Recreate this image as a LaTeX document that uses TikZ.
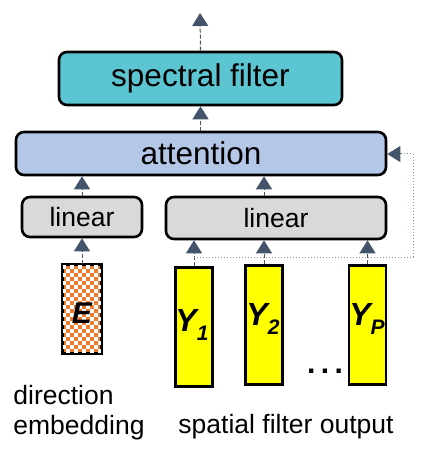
\documentclass[tikz,border=0pt]{standalone}
\usepackage{fontspec}
\setmainfont{Liberation Sans}
\usetikzlibrary{arrows.meta}
\definecolor{specc}{HTML}{5BC5D1}
\definecolor{attc}{HTML}{B4C7E7}
\definecolor{linc}{HTML}{D9D9D9}
\definecolor{yelc}{HTML}{FFFF00}
\definecolor{orac}{HTML}{ED7D31}
\definecolor{arrc}{HTML}{44546A}
\definecolor{dotc}{HTML}{8494AA}
\begin{document}
\begin{tikzpicture}[x=1pt,y=-1pt,
  box/.style={draw=black, line width=2.6pt, rounded corners=8pt, inner sep=0pt},
  bar/.style={draw=black, line width=2.4pt, inner sep=0pt, fill=yelc, minimum width=37pt, minimum height=119pt},
  arrtip/.style={-{Triangle[width=16pt,length=13pt,fill=arrc,color=arrc]}},
  arr/.style={draw=arrc, line width=1pt, dash pattern=on 4pt off 2pt, arrtip},
  dotl/.style={draw=dotc, line width=1pt, dotted},
  ylab/.style={font=\fontsize{32}{32}\selectfont\bfseries\itshape},
  lbl/.style={font=\fontsize{26.5}{30}\selectfont, inner sep=0pt}
]
\useasboundingbox (0,0) rectangle (420,462);
% boxes
\node[box, fill=specc, minimum width=283pt, minimum height=53pt, font=\fontsize{31.5}{31.5}\selectfont] (spec) at (200.5,78.5) {spectral filter};
\node[box, fill=attc, minimum width=370pt, minimum height=43pt, font=\fontsize{31.5}{31.5}\selectfont] (att) at (201,153.5) {attention};
\node[box, fill=linc, minimum width=120pt, minimum height=40pt, font=\fontsize{26.5}{26.5}\selectfont] (lin1) at (82,217) {linear};
\node[box, fill=linc, minimum width=220pt, minimum height=42pt, font=\fontsize{26.5}{26.5}\selectfont] (lin2) at (276,218) {linear};
% E checker
\node[draw=black, line width=2.4pt, inner sep=0pt, minimum width=38pt, minimum height=88pt, fill=orac] (E) at (82,309) {};
\begin{scope}
\clip (62.5,265) rectangle (101.5,353);
\foreach \i in {0,...,10}{
  \foreach \j in {0,...,22}{
    \pgfmathtruncatemacro{\parity}{mod(\i+\j,2)}
    \ifnum\parity=0
      \fill[white] (62+\i*4,265+\j*4) rectangle ++(4,4);
    \fi
  }
}
\end{scope}
\draw[black, line width=2.4pt] (E.north west) rectangle (E.south east);
\node[ylab, font=\fontsize{30}{30}\selectfont\bfseries\itshape] (Etxt) at (82,313) {E};
% Y bars
\node[bar] (Y1) at (194,327) {};
\node[bar] (Y2) at (264,325) {};
\node[bar] (YP) at (367.5,325) {};
\node[ylab, inner sep=0pt] (Y1t) at (192,325) {Y\raisebox{-9pt}{\fontsize{21}{21}\selectfont 1}};
\node[ylab, inner sep=0pt] (Y2t) at (263,319) {Y\raisebox{-9pt}{\fontsize{21}{21}\selectfont 2}};
\node[ylab, inner sep=0pt] (YPt) at (367,319) {Y\raisebox{-9pt}{\fontsize{21}{21}\selectfont P}};
\node[font=\fontsize{30}{30}\selectfont\bfseries, inner sep=0pt, anchor=base] (dots) at (325,373) {.\hspace{5.5pt}.\hspace{5.5pt}.};
% labels
\node[lbl, align=left] (dir) at (79,413) {direction\\embedding};
\node[lbl] (sfo) at (286,427) {spatial filter output};
% arrows
\coordinate (topend) at (200,13);
\draw[arr] (spec.north) -- (topend);
\draw[arr] (att.north -| spec.north) -- (spec.south);
\draw[arr] (lin1.north) -- (lin1.north |- att.south);
\draw[arr] (lin2.north -| 264,0) -- (att.south -| 264,0);
\draw[arr] (E.north) -- (lin1.south);
\draw[arr] (Y1.north) -- (Y1.north |- lin2.south);
\draw[arr] (Y2.north) -- (Y2.north |- lin2.south);
\draw[arr] (YP.north) -- (YP.north |- lin2.south);
% dotted feedback
\coordinate (tap) at (194,257);
\coordinate (c1) at (413,257);
\coordinate (c2) at (413,154);
\coordinate (c3) at (401,154);
\draw[dotl] (tap) -- (c1) -- (c2) -- (c3);
\draw[draw=arrc, line width=1pt, arrtip] (c3) -- (att.east |- c3);
\end{tikzpicture}
\end{document}
